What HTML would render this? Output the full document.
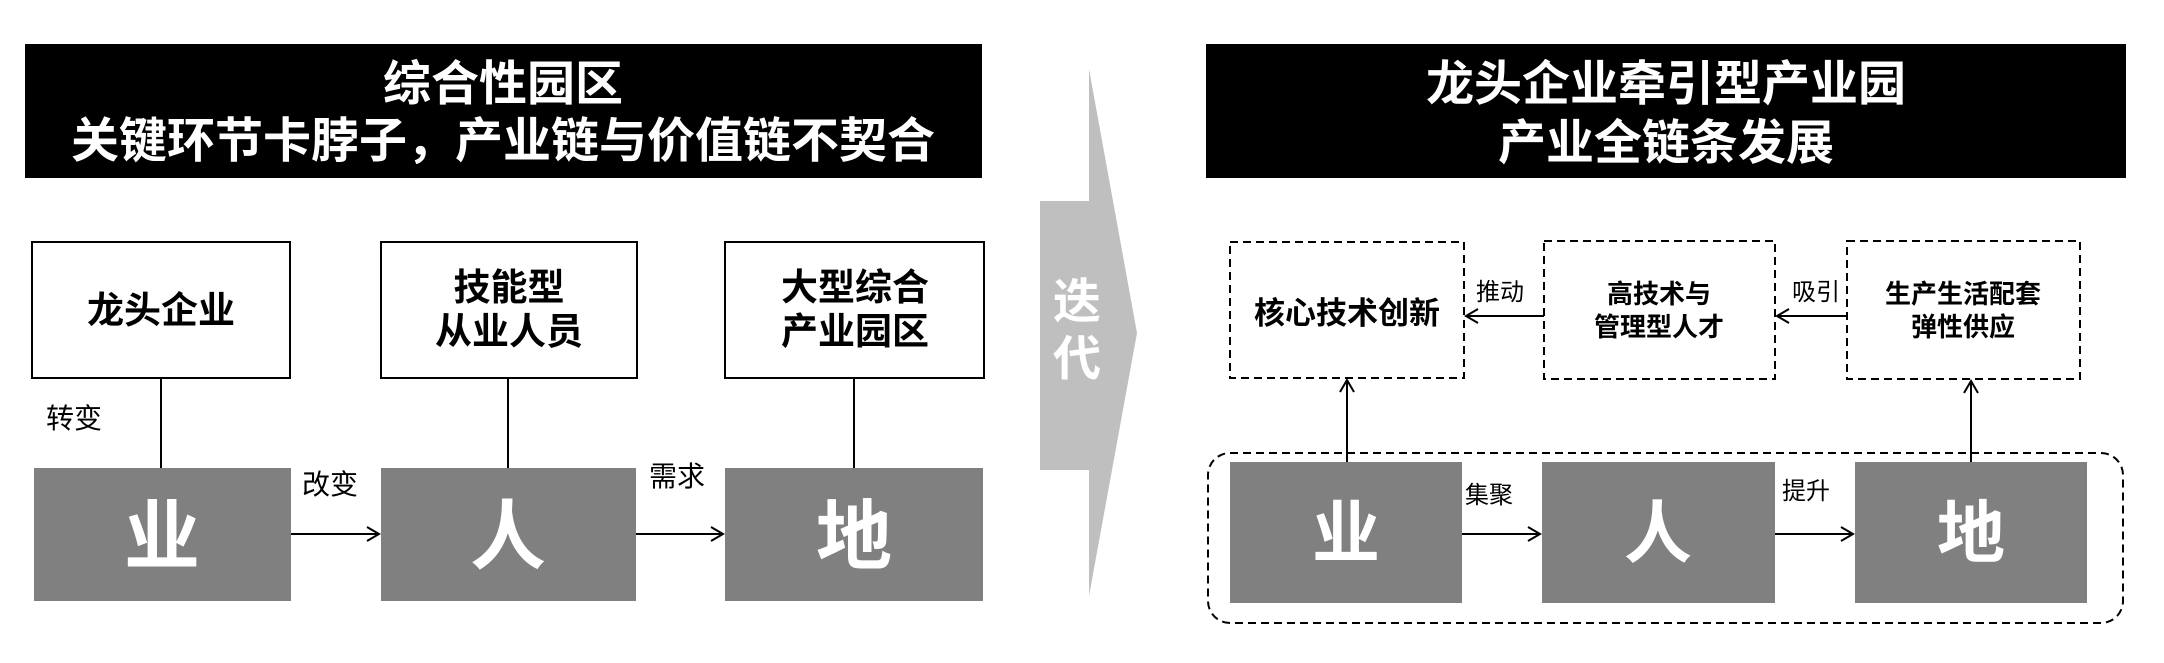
<!DOCTYPE html>
<html><head><meta charset="utf-8"><style>
html,body{margin:0;padding:0;background:#fff;}
svg text{font-family:"Liberation Sans","Noto Sans CJK SC",sans-serif;}
</style></head><body>
<svg width="2164" height="658" viewBox="0 0 2164 658" xmlns="http://www.w3.org/2000/svg">
<defs>
<marker id="ah" markerWidth="16" markerHeight="16" refX="14" refY="8" orient="auto" markerUnits="userSpaceOnUse">
<path d="M2,1 L14,8 L2,15" fill="none" stroke="#000" stroke-width="2"/>
</marker>
</defs>
<rect x="25" y="44" width="957" height="134" fill="#000"/>
<text x="503" y="100" fill="#fff" font-size="48" font-weight="bold" text-anchor="middle">综合性园区</text>
<text x="503" y="157" fill="#fff" font-size="48" font-weight="bold" text-anchor="middle">关键环节卡脖子，产业链与价值链不契合</text>
<g fill="#fff" stroke="#000" stroke-width="2">
<rect x="32" y="242" width="258" height="136"/>
<rect x="381" y="242" width="256" height="136"/>
<rect x="725" y="242" width="259" height="136"/>
</g>
<g font-size="37" font-weight="bold" text-anchor="middle" fill="#000">
<text x="161" y="323">龙头企业</text>
<text x="509" y="300">技能型</text>
<text x="509" y="344">从业人员</text>
<text x="855" y="300">大型综合</text>
<text x="855" y="344">产业园区</text>
</g>
<g stroke="#000" stroke-width="2">
<line x1="161" y1="378" x2="161" y2="468"/>
<line x1="508" y1="378" x2="508" y2="468"/>
<line x1="854" y1="378" x2="854" y2="468"/>
<line x1="291" y1="534" x2="379" y2="534" marker-end="url(#ah)"/>
<line x1="636" y1="534" x2="723" y2="534" marker-end="url(#ah)"/>
</g>
<g fill="#808080">
<rect x="34" y="468" width="257" height="133"/>
<rect x="381" y="468" width="255" height="133"/>
<rect x="725" y="468" width="258" height="133"/>
</g>
<g font-size="76" font-weight="bold" fill="#fff" text-anchor="middle">
<text x="162" y="563">业</text>
<text x="508" y="563">人</text>
<text x="854" y="563">地</text>
</g>
<g font-size="28" fill="#000">
<text x="46" y="428">转变</text>
<text x="302" y="494">改变</text>
<text x="649" y="486">需求</text>
</g>
<path d="M1040,201 L1089,201 L1089,69 L1137,333 L1089,596 L1089,470 L1040,470 Z" fill="#bfbfbf"/>
<g font-size="48" font-weight="bold" fill="#fff" text-anchor="middle">
<text x="1077" y="318">迭</text>
<text x="1077" y="375">代</text>
</g>
<rect x="1206" y="44" width="920" height="134" fill="#000"/>
<text x="1666" y="100" fill="#fff" font-size="48" font-weight="bold" text-anchor="middle">龙头企业牵引型产业园</text>
<text x="1666" y="159" fill="#fff" font-size="48" font-weight="bold" text-anchor="middle">产业全链条发展</text>
<g fill="none" stroke="#000" stroke-width="2" stroke-dasharray="8,5">
<rect x="1230" y="242" width="234" height="136"/>
<rect x="1544" y="241" width="231" height="138"/>
<rect x="1847" y="241" width="233" height="138"/>
<rect x="1208" y="453" width="915" height="170" rx="22"/>
</g>
<g font-weight="bold" fill="#000" text-anchor="middle">
<text x="1347" y="324" font-size="31">核心技术创新</text>
<text x="1659" y="303" font-size="26">高技术与</text>
<text x="1659" y="336" font-size="26">管理型人才</text>
<text x="1963" y="303" font-size="26">生产生活配套</text>
<text x="1963" y="336" font-size="26">弹性供应</text>
</g>
<g stroke="#000" stroke-width="2">
<line x1="1544" y1="316" x2="1466" y2="316" marker-end="url(#ah)"/>
<line x1="1847" y1="316" x2="1777" y2="316" marker-end="url(#ah)"/>
<line x1="1347" y1="462" x2="1347" y2="380" marker-end="url(#ah)"/>
<line x1="1971" y1="462" x2="1971" y2="381" marker-end="url(#ah)"/>
<line x1="1462" y1="534" x2="1540" y2="534" marker-end="url(#ah)"/>
<line x1="1775" y1="534" x2="1853" y2="534" marker-end="url(#ah)"/>
</g>
<g font-size="24" fill="#000">
<text x="1476" y="300">推动</text>
<text x="1792" y="300">吸引</text>
<text x="1465" y="503">集聚</text>
<text x="1782" y="499">提升</text>
</g>
<g fill="#808080">
<rect x="1230" y="462" width="232" height="141"/>
<rect x="1542" y="462" width="233" height="141"/>
<rect x="1855" y="462" width="232" height="141"/>
</g>
<g font-size="68" font-weight="bold" fill="#fff" text-anchor="middle">
<text x="1346" y="557">业</text>
<text x="1658" y="557">人</text>
<text x="1971" y="557">地</text>
</g>
</svg>
</body></html>
